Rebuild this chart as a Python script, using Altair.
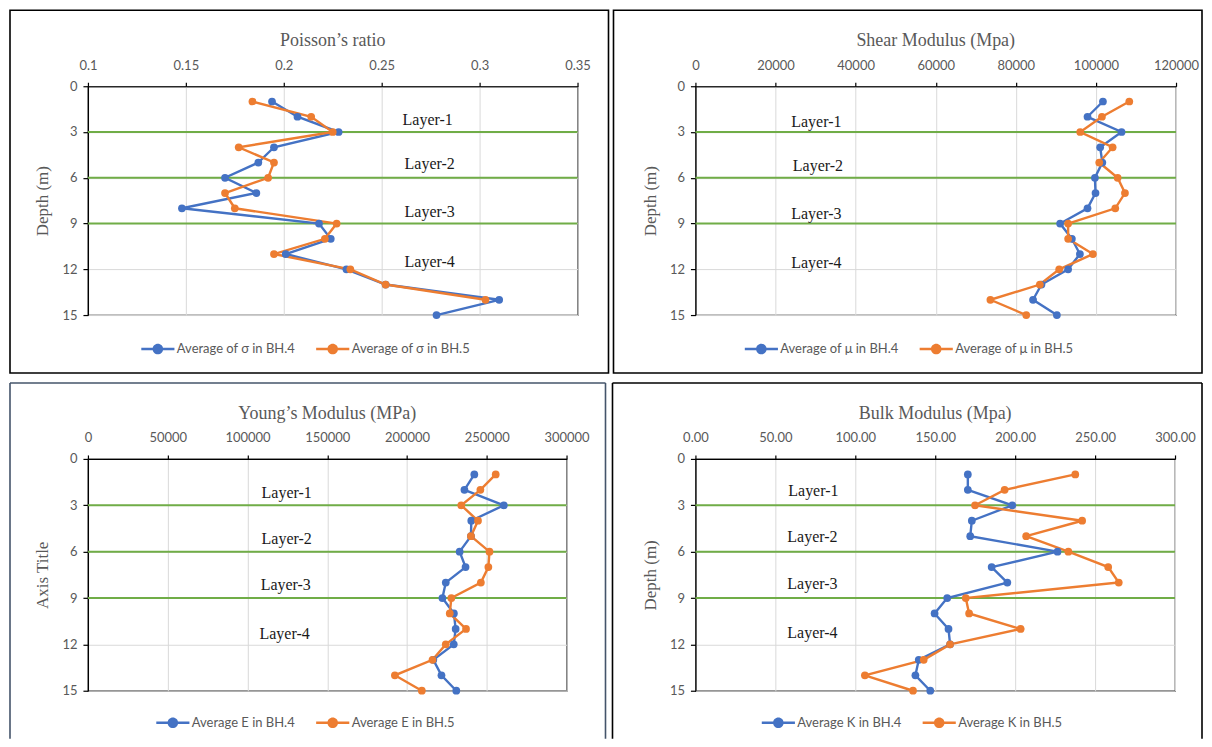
import altair as alt
import pandas as pd

# ---------------- data ----------------
depth = [1, 2, 3, 4, 5, 6, 7, 8, 9, 10, 11, 12, 13, 14, 15]

pr_bh4 = [0.194, 0.207, 0.228, 0.195, 0.187, 0.170, 0.186, 0.148, 0.218, 0.224, 0.201, 0.232, 0.252, 0.310, 0.278]
pr_bh5 = [0.184, 0.214, 0.225, 0.177, 0.195, 0.192, 0.170, 0.175, 0.227, 0.221, 0.195, 0.234, 0.252, 0.303, None]

g_bh4 = [101750, 97900, 106400, 101060, 101600, 99750, 99900, 97900, 91060, 93990, 96000, 93060, 86400, 84300, 90250]
g_bh5 = [108330, 101500, 96080, 104170, 100830, 105420, 107250, 104830, 93060, 93060, 99250, 90830, 86000, 73650, 82600]

e_bh4 = [242200, 236000, 260700, 240300, 240100, 233000, 236700, 224300, 222200, 229400, 230500, 229300, 216500, 221600, 230900]
e_bh5 = [255600, 246000, 234000, 244500, 240100, 251700, 251000, 246300, 227800, 226800, 237000, 224300, 216000, 192400, 209300]

k_bh4 = [170.4, 170.4, 198.2, 172.9, 171.9, 226.5, 185.3, 195.1, 157.5, 149.6, 158.3, 159.3, 139.7, 137.6, 146.9]
k_bh5 = [237.6, 193.4, 174.9, 241.9, 206.9, 233.3, 258.2, 264.8, 169.1, 171.2, 203.4, 159.3, 142.8, 106.0, 136.1]

layer_names = ["Layer-1", "Layer-2", "Layer-3", "Layer-4"]
layer_boundaries = [3, 6, 9]

pr_ticks = [0.1, 0.15, 0.2, 0.25, 0.3, 0.35]
g_ticks = [0, 20000, 40000, 60000, 80000, 100000, 120000]
e_ticks = [0, 50000, 100000, 150000, 200000, 250000, 300000]
k_ticks = [0, 50, 100, 150, 200, 250, 300]
depth_ticks = [0, 3, 6, 9, 12, 15]

# label anchor positions (in data units) for the layer names
pr_label_x = [0.2735, 0.2745, 0.2745, 0.2745]
pr_label_depth = [2.2, 5.1, 8.25, 11.5]
g_label_x = [30200, 30600, 30200, 30200]
g_label_depth = [2.35, 5.25, 8.4, 11.6]
e_label_x = [124600, 124600, 124000, 123300]
e_label_depth = [2.2, 5.17, 8.15, 11.3]
k_label_x = [73.8, 73.2, 73.2, 73.2]
k_label_depth = [2.1, 5.05, 8.1, 11.25]

BLUE = "#4472c4"
ORANGE = "#ed7d31"
GREEN = "#70ad47"
GRAY = "#595959"
LABEL_FONT = "Lato"
SERIF = "Liberation Serif"

# legend symbol: thin line with a filled circle (normalised coordinates)
LEG_PATH = ("M-1,-0.075H1V0.075H-1Z "
            "M-0.32,0A0.32,0.32 0 1,1 0.32,0A0.32,0.32 0 1,1 -0.32,0Z")


def panel(title, v4, v5, names, xdomain, xticks, xfmt, lab_x, lab_d, ytitle,
          w, h, box, box_color, closed_box, leg_x, leg_y):
    df = pd.DataFrame({
        "depth": depth + depth,
        "value": v4 + v5,
        "series": [names[0]] * len(depth) + [names[1]] * len(depth),
    })
    x = alt.X("value:Q",
              scale=alt.Scale(domain=xdomain, nice=False, zero=False),
              axis=alt.Axis(orient="top", values=xticks, format=xfmt, title=None,
                            labelFlush=False, tickSize=4, labelPadding=10,
                            grid=True, gridColor="#d9d9d9"))
    y = alt.Y("depth:Q",
              scale=alt.Scale(domain=[0, 15], reverse=True, nice=False, zero=False),
              axis=alt.Axis(values=depth_ticks, title=ytitle, tickSize=5, labelPadding=6,
                            grid=True, gridColor="#d9d9d9", titlePadding=10))
    legend = alt.Legend(title=None, orient="none", direction="horizontal",
                        legendX=leg_x, legendY=leg_y,
                        symbolType=LEG_PATH, symbolSize=1100,
                        symbolStrokeWidth=0, columnPadding=20,
                        labelOffset=2, labelFont=LABEL_FONT,
                        labelFontSize=13, labelColor=GRAY,
                        labelLimit=300)
    color = alt.Color("series:N",
                      scale=alt.Scale(domain=names, range=[BLUE, ORANGE]),
                      legend=legend)
    base = alt.Chart(df).transform_filter("isValid(datum.value)")
    lines = base.mark_line(strokeWidth=2.4).encode(x=x, y=y, color=color, order="depth:Q")
    pts = base.mark_circle(size=60, opacity=1).encode(x=x, y=y, color=color)

    bounds = alt.Chart(pd.DataFrame({"depth": layer_boundaries})).mark_rule(
        color=GREEN, strokeWidth=2).encode(y=y)

    labels = alt.Chart(pd.DataFrame({"value": lab_x, "depth": lab_d, "name": layer_names})).mark_text(
        font=SERIF, fontSize=16, color="#1a1a1a", align="center", baseline="middle").encode(
        x=x, y=y, text="name:N")

    one = alt.Data(values=[{"k": 1}])
    x0, x1, y0, y1 = box
    if closed_box:
        frame = [alt.Chart(one).mark_rect(fill="transparent", stroke=box_color, strokeWidth=1.6).encode(
            x=alt.value(x0), x2=alt.value(x1), y=alt.value(y0), y2=alt.value(y1))]
    else:
        frame = [
            alt.Chart(one).mark_rule(color=box_color, strokeWidth=1.6).encode(
                x=alt.value(x0), x2=alt.value(x1), y=alt.value(y0)),
            alt.Chart(one).mark_rule(color=box_color, strokeWidth=1.6).encode(
                x=alt.value(x0), y=alt.value(y0), y2=alt.value(y1)),
            alt.Chart(one).mark_rule(color=box_color, strokeWidth=1.6).encode(
                x=alt.value(x1), y=alt.value(y0), y2=alt.value(y1)),
        ]

    return alt.layer(*frame, bounds, lines, pts, labels).properties(
        width=w, height=h,
        title=alt.TitleParams(title, font=SERIF, fontSize=18, color=GRAY,
                              fontWeight="normal", anchor="middle", offset=-41))


p1 = panel("Poisson\u2019s ratio", pr_bh4, pr_bh5,
           ["Average of \u03c3 in BH.4", "Average of \u03c3 in BH.5"],
           [0.1, 0.35], pr_ticks, "~g", pr_label_x, pr_label_depth, "Depth (m)",
           490, 229, (-78, 521, -76, 287), "#000000", True, 53, 246)
p2 = panel("Shear Modulus (Mpa)", g_bh4, g_bh5,
           ["Average of \u03bc in BH.4", "Average of \u03bc in BH.5"],
           [0, 120000], g_ticks, "d", g_label_x, g_label_depth, "Depth (m)",
           481, 229, (-82, 507, -76, 287), "#000000", True, 49, 246)
p3 = panel("Young\u2019s Modulus (MPa)", e_bh4, e_bh5,
           ["Average E in BH.4", "Average E in BH.5"],
           [0, 300000], e_ticks, "d", e_label_x, e_label_depth, "Axis Title",
           479, 232, (-78, 518, -76, 280), "#44546a", False, 68, 247)
p4 = panel("Bulk Modulus (Mpa)", k_bh4, k_bh5,
           ["Average K in BH.4", "Average K in BH.5"],
           [0, 300], k_ticks, ".2f", k_label_x, k_label_depth, "Depth (m)",
           480, 232, (-83, 507, -76, 280), "#000000", False, 66, 247)

chart = alt.concat(p1, p2, p3, p4, columns=2, bounds="flush",
                   spacing={"row": 144, "column": 118}).resolve_scale(
    color="independent", x="independent", y="independent").properties(
    padding=0, background="white"
).configure_view(stroke="#000000", strokeWidth=1.2).configure_axis(
    labelFont=LABEL_FONT, labelFontSize=13, labelColor=GRAY,
    titleFont=SERIF, titleFontSize=17, titleColor=GRAY, titleFontWeight="normal",
    domainColor="#000000", domainWidth=1.2, tickColor="#000000", tickWidth=1.2,
)

chart.save("out.html", embed_options={"renderer": "svg", "actions": False})
